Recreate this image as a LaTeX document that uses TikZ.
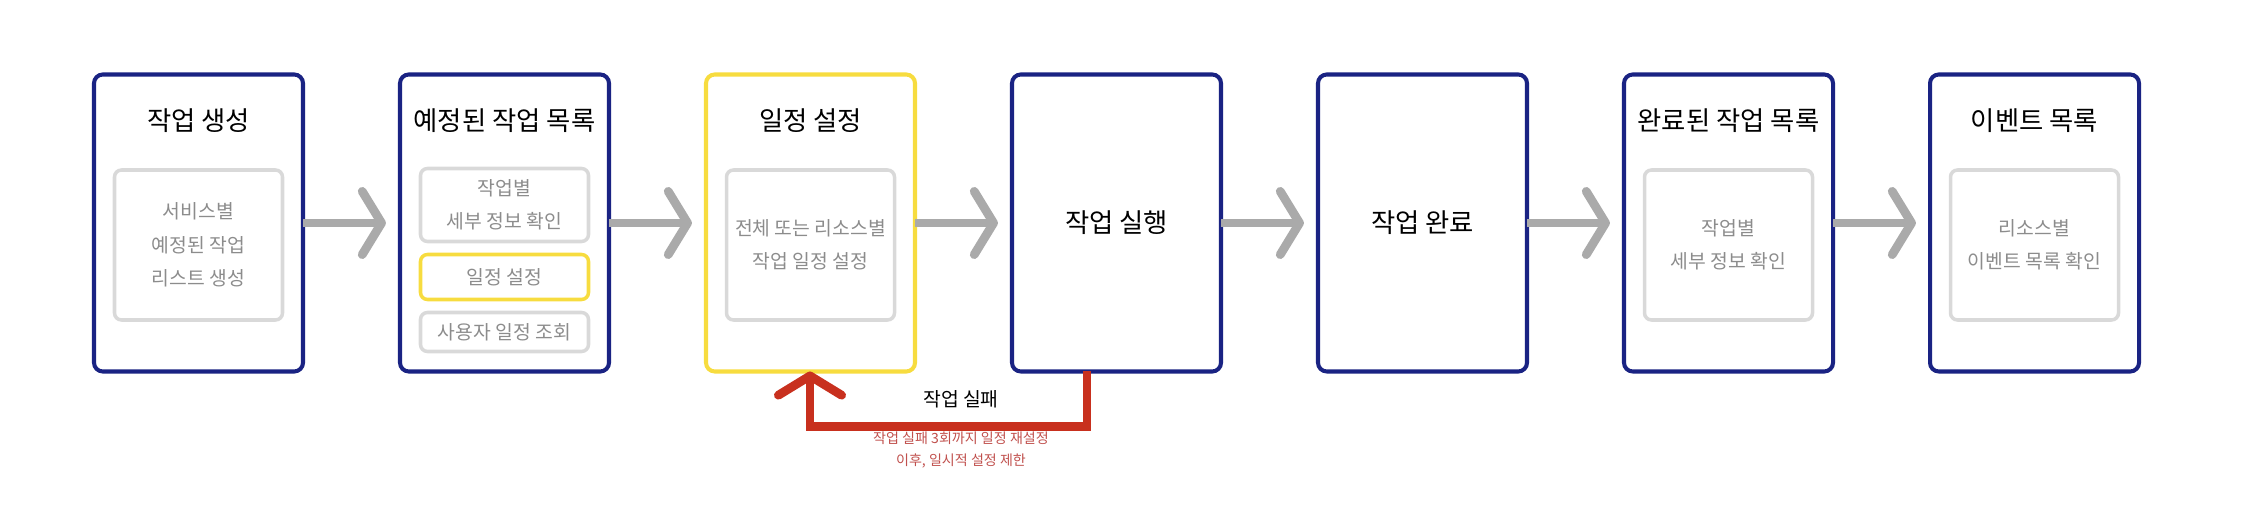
\documentclass[tikz,border=0pt]{standalone}
\usepackage{fontspec}
\setmainfont{Noto Sans CJK KR}
\usetikzlibrary{positioning,arrows.meta}
\definecolor{stageblue}{HTML}{1A2383}
\definecolor{stageyellow}{HTML}{F7DC3F}
\definecolor{innergray}{HTML}{D9D9D9}
\definecolor{textgray}{HTML}{8C8C8C}
\definecolor{flowgray}{HTML}{AAAAAA}
\definecolor{failred}{HTML}{C8301E}
\definecolor{notered}{HTML}{C0504D}
\begin{document}
\begin{tikzpicture}[
    stage/.style={rectangle, draw=stageblue, line width=2.3pt, rounded corners=5pt, outer sep=0pt, minimum width=4.18cm, minimum height=5.94cm},
    title/.style={font=\fontsize{15}{18}\selectfont, text=black},
    inner/.style={rectangle, draw=innergray, line width=2pt, rounded corners=4pt, minimum width=3.36cm, text=textgray, align=center, font=\fontsize{11}{19}\selectfont},
    flow/.style={draw=flowgray, line width=5pt, -{Straight Barb[length=11pt,width=36pt,round]}, shorten <=0pt, shorten >=8pt},
    fail/.style={draw=failred, line width=5pt, -{Straight Barb[length=11pt,width=36pt,round]}}
]
    \useasboundingbox (0,0) rectangle (45.2,-10.2);
    \node[stage] (create) at (3.97,-4.46) {};
    \node[stage, right=1.94cm of create] (planned) {};
    \node[stage, right=1.94cm of planned, draw=stageyellow] (schedule) {};
    \node[stage, right=1.94cm of schedule] (run) {};
    \node[stage, right=1.94cm of run] (done) {};
    \node[stage, right=1.94cm of done] (finished) {};
    \node[stage, right=1.94cm of finished] (events) {};

    % titles
    \node[title, below=0.55cm of create.north] {작업 생성};
    \node[title, below=0.55cm of planned.north] {예정된 작업 목록};
    \node[title, below=0.55cm of schedule.north] {일정 설정};
    \node[title] at (run) {작업 실행};
    \node[title] at (done) {작업 완료};
    \node[title, below=0.55cm of finished.north] {완료된 작업 목록};
    \node[title, below=0.55cm of events.north] {이벤트 목록};

    % inner boxes
    \node[inner, minimum height=3cm, below=0.44cm of create.center, anchor=center] (createlist) {서비스별\\예정된 작업\\리스트 생성};
    \node[inner, minimum height=1.46cm, below=2.61cm of planned.north, anchor=center] (planinfo) {작업별\\세부 정보 확인};
    \node[inner, minimum height=0.9cm, draw=stageyellow, below=4.05cm of planned.north, anchor=center] (planset) {일정 설정};
    \node[inner, minimum height=0.78cm, below=5.15cm of planned.north, anchor=center] (planview) {사용자 일정 조회};
    \node[inner, minimum height=3cm, below=0.44cm of schedule.center, anchor=center] (scheduleall) {전체 또는 리소스별\\작업 일정 설정};
    \node[inner, minimum height=3cm, below=0.44cm of finished.center, anchor=center] (finishedinfo) {작업별\\세부 정보 확인};
    \node[inner, minimum height=3cm, below=0.44cm of events.center, anchor=center] (eventlist) {리소스별\\이벤트 목록 확인};

    % flow
    \draw[flow] (create) -- (planned);
    \draw[flow] (planned) -- (schedule);
    \draw[flow] (schedule) -- (run);
    \draw[flow] (run) -- (done);
    \draw[flow] (done) -- (finished);
    \draw[flow] (finished) -- (events);

    % failure loop
    \coordinate (failout) at ([xshift=1.5cm]run.south west);
    \coordinate (failin) at ([xshift=2.08cm]schedule.south west);
    \draw[fail] (failout) -- ++(0,-1.1) -| (failin);
    \node[font=\fontsize{11}{13}\selectfont] (failtext) at (19.22,-7.98) {작업 실패};
    \node[text=notered, align=center, font=\fontsize{8}{12}\selectfont] (failnote) at (19.22,-9.0) {작업 실패 3회까지 일정 재설정\\이후, 일시적 설정 제한};
\end{tikzpicture}
\end{document}
